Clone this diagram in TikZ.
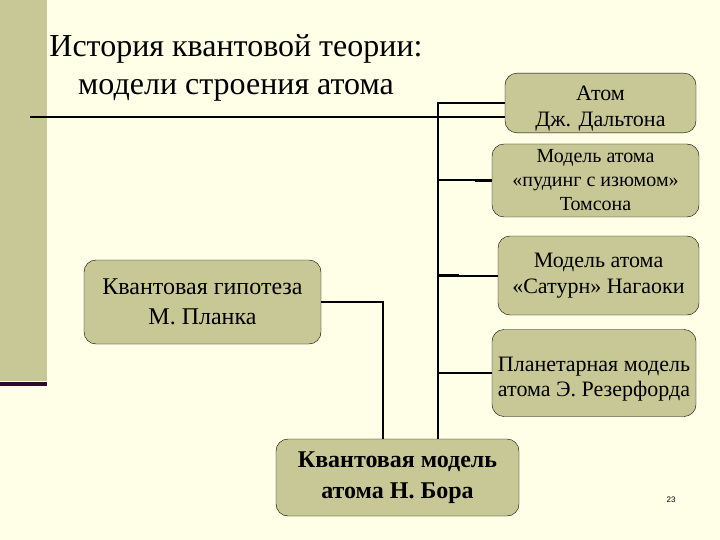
\documentclass[tikz,border=0pt]{standalone}
\usepackage{fontspec}
\setmainfont{Liberation Serif}
\newfontfamily\slideserif{Liberation Serif}
\newfontfamily\pagefont{Liberation Sans}
\usepackage{xcolor}
\usepackage{tikz}
\usetikzlibrary{positioning,backgrounds}

\definecolor{slidebg}{HTML}{FFFFE8}
\definecolor{khaki}{HTML}{C8C896}
\definecolor{plum}{HTML}{2E0A2E}

\begin{document}
\begin{tikzpicture}[
  x=1pt, y=-1pt,
  model/.style={rectangle, draw, rounded corners=12pt, fill=khaki, align=center, inner sep=2pt, font=\slideserif\fontsize{22}{26}\selectfont},
  link/.style={line width=2pt}
]
\useasboundingbox (0,0) rectangle (720,540);
\fill[slidebg] (0,0) rectangle (720,540);
\fill[khaki] (0,0) rectangle (47,381);
\fill[plum] (0,382) rectangle (47,386);

\node[align=center, font=\slideserif\fontsize{32}{38}\selectfont] (title) at (236,68) {История квантовой теории:\\модели строения атома};

\node[model, minimum width=191pt, minimum height=58pt] (dalton) at (600.5,103) {\rule{0pt}{25pt}Атом\\Дж. Дальтона};
\node[model, minimum width=207pt, minimum height=73pt, font=\slideserif\fontsize{20}{24}\selectfont] (thomson) at (595.5,180.5) {Модель атома\\«пудинг с изюмом»\\Томсона};
\node[model, minimum width=201pt, minimum height=79pt] (nagaoka) at (598.5,275.5) {Модель атома\\«Сатурн» Нагаоки};
\node[model, minimum width=204pt, minimum height=87pt, font=\slideserif\fontsize{22}{25}\selectfont] (rutherford) at (594,373) {\rule{0pt}{27pt}Планетарная модель\\атома Э. Резерфорда};
\node[model, minimum width=237pt, minimum height=84pt, font=\slideserif\fontsize{24}{30}\selectfont] (planck) at (202.5,302) {Квантовая гипотеза\\М. Планка};
\node[model, minimum width=243pt, minimum height=77pt, font=\slideserif\bfseries\fontsize{24}{31}\selectfont] (bohr) at (397.5,477.5) {Квантовая модель\\атома Н. Бора};

\node[font=\pagefont\fontsize{8}{9}\selectfont] (pagenum) at (671,500) {23};

% trunk and branches
\coordinate (trunk) at (438,103);
\coordinate (rule) at (30,117);
\coordinate (drop) at (383,0);
\draw[link] (rule) -- (dalton.west |- rule);
\draw[link] (dalton.west) -- (trunk) -- (trunk |- bohr.north);
\draw[link] (thomson.west) -- (trunk |- thomson.west);
\draw[line width=3pt] (thomson.west) -- ++(-17,0);
\draw[link] (nagaoka.west) -- (trunk |- nagaoka.west);
\draw[line width=3pt] (trunk |- nagaoka.west) -- ++(21,0);
\draw[link] (rutherford.west) -- (trunk |- rutherford.west);
\draw[link] (planck.east) -| (drop |- bohr.north);
\end{tikzpicture}
\end{document}
